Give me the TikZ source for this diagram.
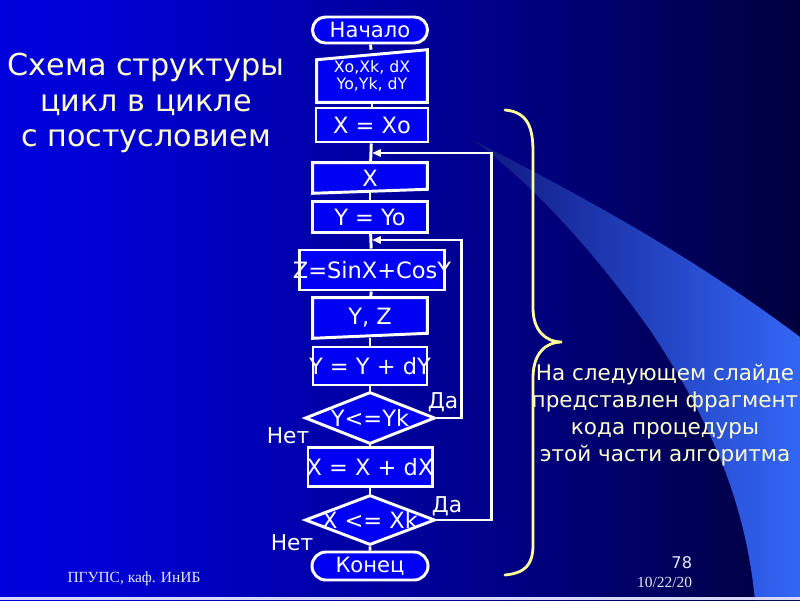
\documentclass[tikz,border=0pt]{standalone}
\usepackage{fontspec}
\setmainfont{DejaVu Sans}
\newfontfamily\footfont{Liberation Serif}
\usepackage{xcolor}
\usetikzlibrary{arrows.meta,shapes.geometric,shapes.misc}
\definecolor{slideLeft}{HTML}{0000EE}
\definecolor{slideMid}{HTML}{0000D8}
\definecolor{slideDeep}{HTML}{00008C}
\definecolor{slideNavy}{HTML}{000048}
\definecolor{slideNight}{HTML}{000020}
\definecolor{beamDim}{HTML}{101880}
\definecolor{beamBright}{HTML}{3366F5}
\definecolor{blockBlue}{HTML}{0000F2}
\definecolor{paleYellow}{HTML}{FFFFCC}
\definecolor{braceYellow}{HTML}{FFFF99}
\definecolor{footInk}{HTML}{E6E6F5}
\pgfdeclarelayer{backdrop}
\pgfdeclarelayer{background}
\pgfsetlayers{backdrop,background,main}
\pgfdeclarehorizontalshading{slideshade}{100bp}{color(0bp)=(slideLeft); color(30bp)=(slideMid); color(55bp)=(slideDeep); color(72bp)=(slideNavy); color(88bp)=(slideNight); color(100bp)=(black)}
\newcommand{\overtext}[1]{\makebox[0pt]{#1}}
\tikzset{
  block/.style={
    rectangle,
    draw=white,
    fill=blockBlue,
    line width=2.1pt,
    inner sep=0pt,
    text=white,
    font=\fontsize{16}{18}\selectfont
  },
  ioblock/.style={
    rectangle,
    draw=none,
    inner sep=0pt,
    text=white,
    align=center,
    font=\fontsize{16}{18}\selectfont
  },
  ioshape/.style={
    draw=white,
    fill=blockBlue,
    line width=2.1pt,
    line join=miter
  },
  terminal/.style={
    rounded rectangle,
    draw=white,
    fill=blockBlue,
    line width=2.1pt,
    inner sep=0pt,
    text=white,
    font=\fontsize{15}{17}\selectfont
  },
  decision/.style={
    diamond,
    draw=white,
    fill=blockBlue,
    line width=2.1pt,
    inner sep=0pt,
    text=white,
    font=\fontsize{16}{18}\selectfont
  },
  flowline/.style={
    draw=white,
    line width=2.1pt
  },
  flowarrow/.style={
    flowline,
    -{Triangle[length=2.2mm,width=1.8mm]}
  },
  branch/.style={
    text=white,
    font=\fontsize{15.5}{17}\selectfont
  },
  slidetitle/.style={
    text=paleYellow,
    align=center,
    font=\fontsize{21.5}{25}\selectfont
  },
  slidenote/.style={
    text=paleYellow,
    align=center,
    font=\fontsize{15.3}{19}\selectfont
  },
  braceline/.style={
    draw=braceYellow,
    line width=2pt,
    line cap=round
  },
  footnote/.style={
    text=footInk,
    font=\footfont\fontsize{11}{13}\selectfont
  }
}
\begin{document}
\begin{tikzpicture}[x=0.025cm,y=-0.025cm]
  \useasboundingbox (0,0) rectangle (800,600);
  \begin{pgfonlayer}{backdrop}
    \shade[shading=slideshade] (0,0) rectangle (800,600);
    \shade[left color=beamDim,right color=beamBright] (473,140) .. controls (600,205) and (700,262) .. (800,337) -- (800,600) -- (755,600) .. controls (745,500) and (710,420) .. (650,330) .. controls (600,260) and (540,190) .. (473,140) -- cycle;
    \fill[white!85!blue] (0,597) rectangle (800,600);
  \end{pgfonlayer}

  \node[slidetitle] (title) at (146,103) {Схема структуры\\цикл в цикле\\с постусловием};

  \node[terminal,minimum width=28.75mm,minimum height=6.5mm] (start) at (370,30) {Начало};
  \node[ioblock,minimum width=27.5mm,minimum height=13mm,font=\fontsize{11.2}{11.6}\selectfont] (inp) at (372,76) {Xo,Xk, dX\\Yo,Yk, dY};
  \node[block,minimum width=28mm,minimum height=8.5mm] (xinit) at (372,125) {X = Xo};
  \node[ioblock,minimum width=28.5mm,minimum height=7.5mm] (xout) at (370,178) {X};
  \node[block,minimum width=28.75mm,minimum height=7.75mm] (yinit) at (370,217) {Y = Yo};
  \node[block,minimum width=36.25mm,minimum height=10mm] (zcalc) at (372,270) {\overtext{Z=SinX+CosY}};
  \node[ioblock,minimum width=28.5mm,minimum height=10mm] (yzout) at (370,318) {Y, Z};
  \node[block,minimum width=28.5mm,minimum height=9.5mm] (ystep) at (370,366) {\overtext{Y = Y + dY}};
  \node[decision,minimum width=32.5mm,minimum height=13mm] (ytest) at (370,418) {\overtext{Y<=Yk}};
  \node[block,minimum width=31mm,minimum height=9.75mm] (xstep) at (370,467) {\overtext{X = X + dX}};
  \node[decision,minimum width=32.5mm,minimum height=12.5mm] (xtest) at (370,520) {\overtext{X <= Xk}};
  \node[terminal,minimum width=29mm,minimum height=7mm] (finish) at (370,566) {Конец};

  \coordinate (innerjoin) at (372,240);
  \coordinate (outerjoin) at (372,153);

  \begin{pgfonlayer}{background}
    \draw[flowline] (start) -- (inp);
    \draw[flowline] (inp) -- (xinit);
    \draw[flowline] (xinit) -- (xout);
    \draw[flowline] (xout) -- (yinit);
    \draw[flowline] (yinit) -- (zcalc);
    \draw[flowline] (zcalc) -- (yzout);
    \draw[flowline] (yzout) -- (ystep);
    \draw[flowline] (ystep) -- (ytest);
    \draw[flowline] (ytest) -- (xstep);
    \draw[flowline] (xstep) -- (xtest);
    \draw[flowline] (xtest) -- (finish);
    \filldraw[ioshape] (inp.south west) -- (inp.south east) -- (inp.north east) -- ([yshift=-2.5mm]inp.north west) -- cycle;
    \filldraw[ioshape] (xout.north west) -- (xout.north east) -- ([yshift=1mm]xout.south east) -- (xout.south west) -- cycle;
    \filldraw[ioshape] (yzout.north west) -- (yzout.north east) -- ([yshift=1.25mm]yzout.south east) -- (yzout.south west) -- cycle;
  \end{pgfonlayer}

  \draw[flowarrow] (ytest.east) -- ++(25,0) |- (innerjoin);
  \draw[flowarrow] (xtest.east) -- ++(55,0) |- (outerjoin);

  \node[branch] (yyes) at (443,402) {Да};
  \node[branch] (yno) at (288,436) {Нет};
  \node[branch] (xyes) at (447,506) {Да};
  \node[branch] (xno) at (292,543) {Нет};

  \draw[braceline] (505,110) .. controls (528,112) and (533,128) .. (533,152) -- (533,308) .. controls (533,330) and (545,342) .. (562,342) .. controls (545,342) and (533,354) .. (533,378) -- (533,545) .. controls (533,565) and (525,573) .. (505,575);

  \node[slidenote] (note) at (665,415) {На следующем слайде\\представлен фрагмент\\кода процедуры\\этой части алгоритма};

  \node[footnote] (dept) at (134,579) {ПГУПС, каф. ИнИБ};
  \node[text=footInk,font=\fontsize{11.5}{13}\selectfont,anchor=east] (pageno) at (697,563) {78};
  \node[footnote,anchor=east] (date) at (697,582) {10/22/20};
\end{tikzpicture}
\end{document}
